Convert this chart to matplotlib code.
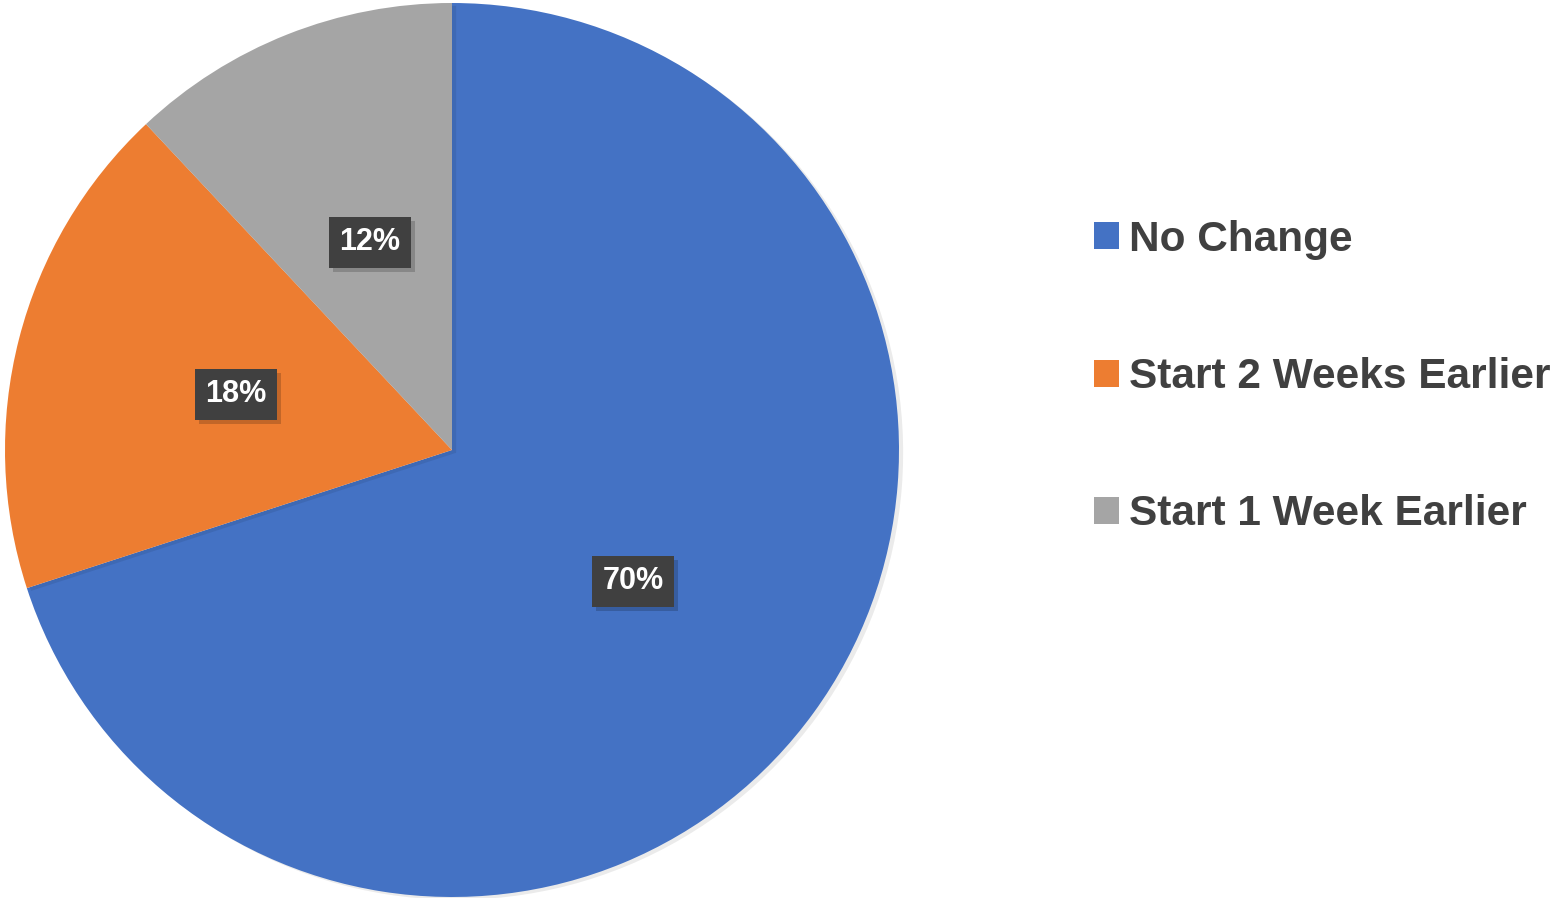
import matplotlib

matplotlib.use("Agg")

import matplotlib.pyplot as plt
import matplotlib.patheffects as pe
from matplotlib.patches import Patch

CATEGORIES = ["No Change", "Start 2 Weeks Earlier", "Start 1 Week Earlier"]
SHARES = [70, 18, 12]
COLORS = ["#4472C4", "#ED7D31", "#A5A5A5"]

W, H = 1555, 898
fig = plt.figure(figsize=(W / 100, H / 100), dpi=100)
fig.patch.set_facecolor("white")

# pie area in pixels: x 5..899, y 3..897
ax = fig.add_axes([5 / W, 1 - 897 / H, 894 / W, 894 / H])

wedges, texts, autotexts = ax.pie(
    SHARES,
    colors=COLORS,
    startangle=90,
    counterclock=False,
    radius=1.0,
    autopct="%d%%",
    pctdistance=0.5,
    wedgeprops=dict(linewidth=0, edgecolor="none"),
    textprops=dict(color="white", fontsize=22, fontweight="bold",
                   family=["Liberation Sans", "DejaVu Sans"]),
)
ax.set_xlim(-1, 1)
ax.set_ylim(-1, 1)
ax.set_aspect("equal")
ax.axis("off")

for w in wedges:
    w.set_path_effects([pe.SimplePatchShadow(offset=(3, -2), shadow_rgbFace="#000000", alpha=0.08), pe.Normal()])

# dark label boxes with a soft drop shadow
for t in autotexts:
    t.set_bbox(dict(boxstyle="square,pad=0.34", facecolor="#404040", edgecolor="none", linewidth=0))
    t.get_bbox_patch().set_path_effects(
        [pe.SimplePatchShadow(offset=(3, -3), shadow_rgbFace="#000000", alpha=0.18), pe.Normal()]
    )

handles = [Patch(facecolor=c, edgecolor="none") for c in COLORS]
leg = fig.legend(
    handles,
    CATEGORIES,
    loc="center left",
    bbox_to_anchor=(1094 / W, 1 - 377 / H),
    frameon=False,
    prop=dict(family=["Liberation Sans", "DejaVu Sans"], weight="bold", size=30.5),
    labelcolor="#404040",
    handlelength=0.6,
    handleheight=0.6,
    handletextpad=0.22,
    labelspacing=2.3,
    borderpad=0,
    borderaxespad=0,
)

fig.savefig("out.png", dpi=100, facecolor="white")
